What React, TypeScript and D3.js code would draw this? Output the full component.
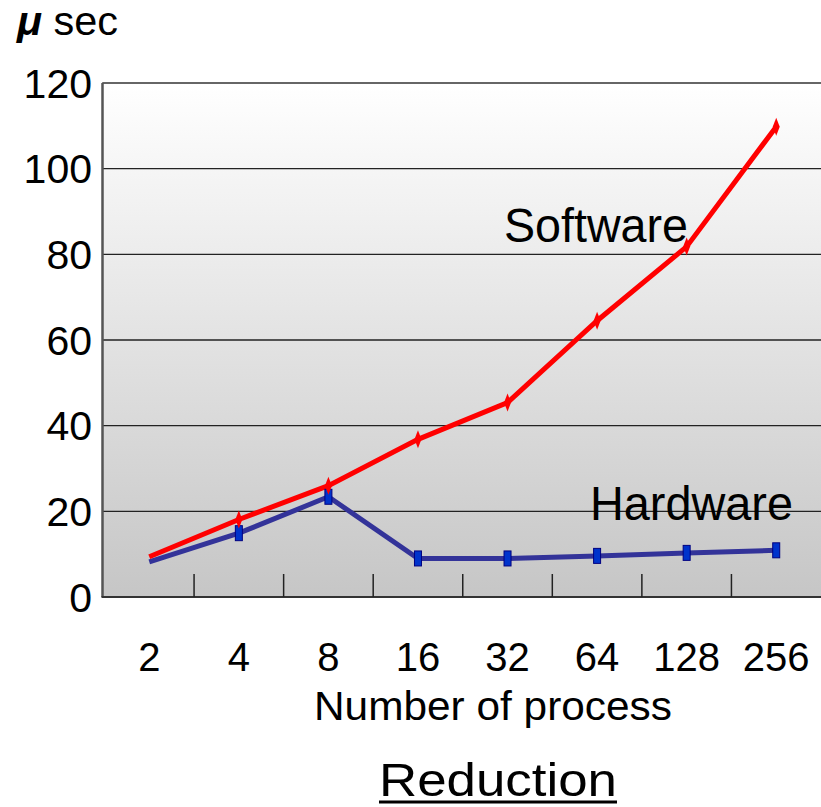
import React from "react";
import * as d3 from "d3";

const categories = ["2", "4", "8", "16", "32", "64", "128", "256"];
const software = [9.4, 18.1, 26.0, 36.8, 45.4, 64.5, 81.8, 109.8];
const hardware = [8.2, 14.9, 23.4, 9.0, 9.0, 9.6, 10.3, 10.9];
const yTicks = [0, 20, 40, 60, 80, 100, 120];

const W = 821;
const H = 807;
const left = 104.5;
const right = 821;
const top = 83;
const bottom = 597;
const FONT = "'Liberation Sans', Arial, sans-serif";

export default function App() {
  const x = d3.scaleBand<string>().domain(categories).range([left, right]).padding(0);
  const y = d3.scaleLinear().domain([0, 120]).range([bottom, top]);
  const cx = (c: string) => (x(c) as number) + x.bandwidth() / 2;

  const line = d3
    .line<number>()
    .x((_, i) => cx(categories[i]))
    .y((d) => y(d));

  const boundaries = categories.slice(1).map((c) => x(c) as number);

  return (
    <svg
      width={W}
      height={H}
      style={{ position: "absolute", left: 0, top: 0, background: "#fff" }}
    >
      <defs>
        <linearGradient id="bg" x1="0" y1="0" x2="0" y2="1">
          <stop offset="0%" stopColor="#ffffff" />
          <stop offset="100%" stopColor="#c6c6c6" />
        </linearGradient>
      </defs>
      <rect x={left - 2} y={top} width={right - left + 2} height={bottom - top} fill="url(#bg)" />
      {yTicks.slice(1).map((t) => (
        <line key={t} x1={left - 2} x2={right} y1={y(t)} y2={y(t)} stroke="#222" strokeWidth={1.4} />
      ))}
      {/* plot border */}
      <line x1={left - 2} x2={right} y1={top} y2={top} stroke="#666" strokeWidth={2.2} />
      <line x1={left - 2} x2={left - 2} y1={top} y2={bottom} stroke="#555" strokeWidth={2.5} />
      <line x1={left - 3} x2={right} y1={bottom} y2={bottom} stroke="#333" strokeWidth={2.2} />
      {/* x ticks (upward) */}
      {boundaries.map((b, i) => (
        <line key={i} x1={b} x2={b} y1={bottom} y2={bottom - 23} stroke="#222" strokeWidth={1.5} />
      ))}
      {/* y tick labels */}
      {yTicks.map((t) => (
        <text
          key={t}
          x={92}
          y={y(t)}
          dy="0.36em"
          textAnchor="end"
          fontFamily={FONT}
          fontSize={41}
          fill="#000"
        >
          {t}
        </text>
      ))}
      {/* x tick labels */}
      {categories.map((c) => (
        <text
          key={c}
          x={cx(c)}
          y={671}
          textAnchor="middle"
          fontFamily={FONT}
          fontSize={40}
          fill="#000"
        >
          {c}
        </text>
      ))}
      {/* lines */}
      <path d={line(hardware) as string} fill="none" stroke="#333399" strokeWidth={5} strokeLinejoin="miter" />
      <path d={line(software) as string} fill="none" stroke="#ff0000" strokeWidth={5} strokeLinejoin="miter" />
      {/* hardware markers */}
      {hardware.map((v, i) =>
        i === 0 ? null : (
          <rect
            key={i}
            x={cx(categories[i]) - 3.5}
            y={y(v) - 7.5}
            width={7}
            height={15}
            fill="#0033cc"
            stroke="#000080"
            strokeWidth={1}
          />
        )
      )}
      {/* software markers */}
      {software.map((v, i) => {
        if (i === 0) return null;
        const px = cx(categories[i]);
        const py = y(v);
        return (
          <path
            key={i}
            d={`M${px},${py - 9} L${px + 3.5},${py} L${px},${py + 9} L${px - 3.5},${py} Z`}
            fill="#ff0000"
          />
        );
      })}
      {/* series labels */}
      <text x={504} y={242} fontFamily={FONT} fontSize={48} fill="#000" textLength={184} lengthAdjust="spacingAndGlyphs">
        Software
      </text>
      <text x={590} y={520} fontFamily={FONT} fontSize={48} fill="#000" textLength={203} lengthAdjust="spacingAndGlyphs">
        Hardware
      </text>
      {/* unit label */}
      <text x={17} y={35} fontFamily={FONT} fontSize={40} fill="#000" textLength={101} lengthAdjust="spacingAndGlyphs">
        <tspan fontWeight="bold" fontStyle="italic">μ</tspan>
        <tspan> sec</tspan>
      </text>
      {/* axis title */}
      <text x={314} y={720} fontFamily={FONT} fontSize={41} fill="#000" textLength={358} lengthAdjust="spacingAndGlyphs">
        Number of process
      </text>
      <text x={379} y={796} fontFamily={FONT} fontSize={47} fill="#000" textLength={238} lengthAdjust="spacingAndGlyphs">
        Reduction
      </text>
      <line x1={379} x2={617} y1={802} y2={802} stroke="#000" strokeWidth={3} />
    </svg>
  );
}
